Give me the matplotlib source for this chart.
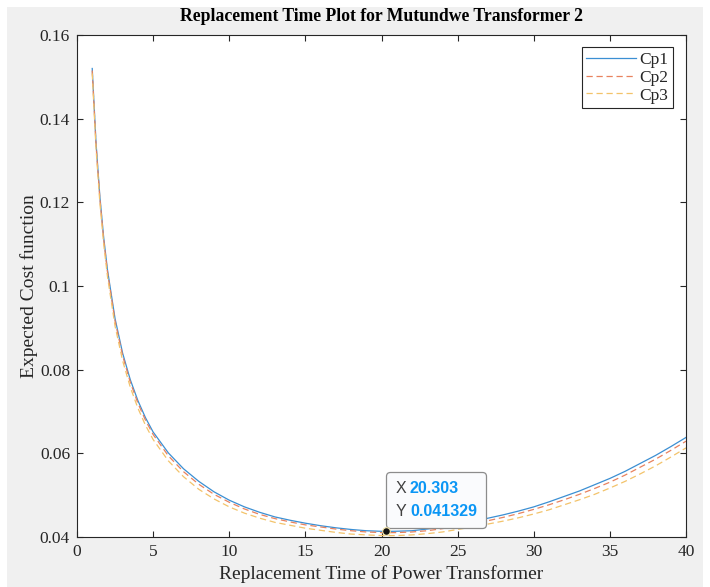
import matplotlib
matplotlib.use('Agg')
import matplotlib.pyplot as plt
from matplotlib.patches import Rectangle
from matplotlib.offsetbox import TextArea, HPacker, VPacker, AnnotationBbox

# Replacement time (years)
t = [1, 1.25, 1.5, 1.75, 2, 2.5, 3, 3.5, 4, 4.5, 5, 6, 7, 8, 9, 10,
     11, 12, 13, 14, 15, 16, 17, 18, 19, 20, 20.303, 21, 22, 23, 24, 25,
     26, 27, 28, 29, 30, 31, 32, 33, 34, 35, 36, 37, 38, 39, 40]

# Expected cost function for each preventive cost
cp1 = [0.1520, 0.1342, 0.1215, 0.1117, 0.1039, 0.0922, 0.0839, 0.0776,
       0.0726, 0.0685, 0.0651, 0.0601, 0.0563, 0.0533, 0.0508, 0.0488,
       0.0472, 0.0459, 0.0448, 0.0440, 0.0433, 0.0427, 0.0422, 0.0418,
       0.0415, 0.04136, 0.041329, 0.04138, 0.0415, 0.0419, 0.0424, 0.0430,
       0.0437, 0.0445, 0.0453, 0.0462, 0.0472, 0.0484, 0.0497, 0.0510,
       0.0525, 0.0540, 0.0557, 0.0576, 0.0595, 0.0616, 0.0638]

cp2 = [0.1515, 0.1337, 0.1210, 0.1112, 0.1034, 0.0916, 0.0833, 0.0770,
       0.0720, 0.0679, 0.0645, 0.0594, 0.0556, 0.0526, 0.0502, 0.0483,
       0.0467, 0.0454, 0.0444, 0.0436, 0.0429, 0.0424, 0.0419, 0.0415,
       0.0412, 0.04106, 0.04104, 0.04105, 0.0412, 0.0415, 0.0420, 0.0426,
       0.0432, 0.0439, 0.0447, 0.0456, 0.0466, 0.0477, 0.0489, 0.0502,
       0.0516, 0.0531, 0.0548, 0.0567, 0.0586, 0.0607, 0.0629]

cp3 = [0.1508, 0.1328, 0.1200, 0.1101, 0.1023, 0.0904, 0.0821, 0.0758,
       0.0708, 0.0667, 0.0633, 0.0582, 0.0544, 0.0514, 0.0491, 0.0472,
       0.0457, 0.0445, 0.0435, 0.0428, 0.0421, 0.0416, 0.0411, 0.0407,
       0.0405, 0.04035, 0.04033, 0.04035, 0.0405, 0.0408, 0.0412, 0.0418,
       0.0424, 0.0431, 0.0438, 0.0446, 0.0455, 0.0465, 0.0477, 0.0489,
       0.0502, 0.0517, 0.0533, 0.0551, 0.0570, 0.0591, 0.0613]

series_labels = ['Cp1', 'Cp2', 'Cp3']

# Data tip on the Cp1 minimum
tip_x = 20.303
tip_y = 0.041329

x_ticks = [0, 5, 10, 15, 20, 25, 30, 35, 40]
y_ticks = [0.04, 0.06, 0.08, 0.10, 0.12, 0.14, 0.16]
y_tick_labels = ['0.04', '0.06', '0.08', '0.1', '0.12', '0.14', '0.16']

plt.rcParams['font.family'] = ['Liberation Serif']
dark = '#262626'

fig = plt.figure(figsize=(7.10, 5.87), dpi=100, facecolor='white')
fig.patches.append(Rectangle((7 / 710, 0), 696 / 710, 580 / 587,
                             transform=fig.transFigure, facecolor='#f0f0f0',
                             edgecolor='none', zorder=-10))

ax = fig.add_axes([77 / 710, 50 / 587, 609 / 710, 502 / 587])
ax.set_facecolor('white')

ax.plot(t, cp1, color='#3b8fd3', lw=0.9, label=series_labels[0])
ax.plot(t, cp2, color='#e8825f', lw=0.9, ls=(0, (5, 3)), label=series_labels[1])
ax.plot(t, cp3, color='#f3c36a', lw=0.9, ls=(0, (5, 3)), label=series_labels[2])

ax.set_xlim(0, 40)
ax.set_ylim(0.04, 0.16)
ax.set_xticks(x_ticks)
ax.set_xticklabels([str(v) for v in x_ticks])
ax.set_yticks(y_ticks)
ax.set_yticklabels(y_tick_labels)
ax.tick_params(direction='in', top=True, right=True, length=4.5, width=0.8,
               color=dark, labelcolor=dark, labelsize=12.5, pad=5)
for s in ax.spines.values():
    s.set_color(dark)
    s.set_linewidth(0.8)

ax.set_title('Replacement Time Plot for Mutundwe Transformer 2',
             fontsize=12.7, fontweight='bold', color='black', pad=10)
ax.set_xlabel('Replacement Time of Power Transformer', fontsize=14, color=dark,
              labelpad=4)
ax.set_ylabel('Expected Cost function', fontsize=14, color=dark, labelpad=1)

leg = ax.legend(loc='upper right', bbox_to_anchor=(0.9787, 0.9755),
                borderaxespad=0, fancybox=False, edgecolor=dark, framealpha=1,
                fontsize=12.5, handlelength=2.9, handletextpad=0.2,
                labelspacing=0.1, borderpad=0.25)
leg.get_frame().set_linewidth(0.8)
for txt in leg.get_texts():
    txt.set_color(dark)

# Data tip label box, anchored just above and right of the marker
tip_font = dict(family=['Liberation Sans', 'DejaVu Sans'], size=11.5)
row_x = HPacker(children=[TextArea('X', textprops=dict(color='#404040', **tip_font)),
                          TextArea(f'{tip_x:.3f}', textprops=dict(color='#0a96f5', fontweight='bold', **tip_font))],
                align='baseline', pad=0, sep=3)
row_y = HPacker(children=[TextArea('Y', textprops=dict(color='#404040', **tip_font)),
                          TextArea(f'{tip_y:.6f}', textprops=dict(color='#0a96f5', fontweight='bold', **tip_font))],
                align='baseline', pad=0, sep=3)
tip_box = VPacker(children=[row_x, row_y], align='left', pad=0, sep=6)
ab = AnnotationBbox(tip_box, (tip_x, tip_y), xybox=(6.5, 8.8), xycoords='data',
                    boxcoords='offset points', box_alignment=(0, 0),
                    bboxprops=dict(boxstyle='round,pad=0.65,rounding_size=0.3',
                                   fc='#fafbfd', ec='#8c8c8c', lw=0.9),
                    zorder=7, annotation_clip=False)
ax.add_artist(ab)

# Data tip marker drawn on top of the box edge
ax.plot([tip_x], [tip_y], marker='o', ms=5.5, mfc='#111111', mec='#f5e6a8',
        mew=0.8, zorder=8, clip_on=False)

fig.savefig('out.png', dpi=100, facecolor=fig.get_facecolor())
